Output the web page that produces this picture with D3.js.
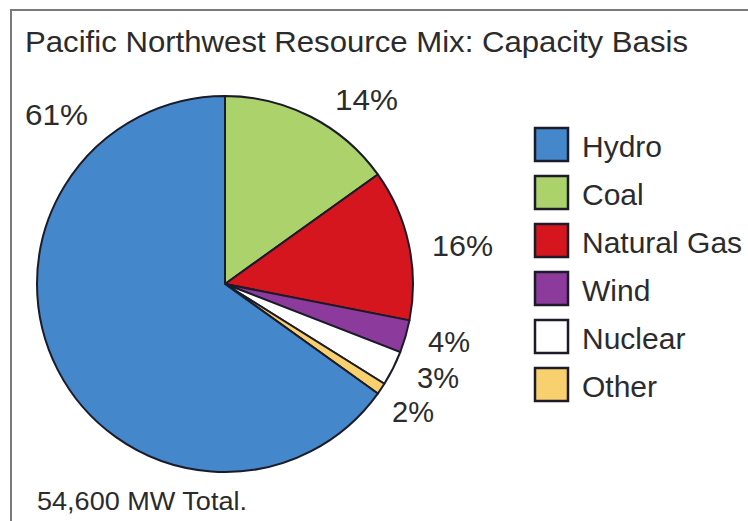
<!DOCTYPE html>
<html><head><meta charset="utf-8">
<script src="https://cdn.jsdelivr.net/npm/d3@7"></script>
<style>html,body{margin:0;padding:0;background:#fff;}svg{display:block;}</style>
</head><body>
<script>
// Data
const categories = ["Coal", "Natural Gas", "Wind", "Nuclear", "Other", "Hydro"];
// slice sizes as drawn in the picture (share of the circle, %)
const sliceShares = [15.1, 13.0, 2.8, 3.0, 1.0, 65.1];
// printed percentage labels
const pctLabels = ["14%", "16%", "4%", "3%", "2%", "61%"];
const legendOrder = ["Hydro", "Coal", "Natural Gas", "Wind", "Nuclear", "Other"];
const colors = {"Hydro":"#4587cb","Coal":"#acd26c","Natural Gas":"#d5161f","Wind":"#8c3a9c","Nuclear":"#ffffff","Other":"#f8d06e"};
const title = "Pacific Northwest Resource Mix: Capacity Basis";
const footnote = "54,600 MW Total.";

const W = 748, H = 521;
const svg = d3.select("body").append("svg").attr("width", W).attr("height", H);
const font = "Liberation Sans, Arial, sans-serif";
const txt = "#2b2b2b";

// frame
svg.append("path").attr("d", `M11,${H+5} L11,10 L${W+5},10`).attr("fill","none").attr("stroke","#7a7a7a").attr("stroke-width",2);

svg.append("text").attr("x",25).attr("y",52).attr("font-family",font).attr("font-size",30)
  .attr("fill",txt).attr("textLength",663).attr("lengthAdjust","spacingAndGlyphs").text(title);

const cx = 225, cy = 284, R = 188;
const data = categories.map((c,i)=>({cat:c, v:sliceShares[i], label:pctLabels[i]}));
const pie = d3.pie().value(d=>d.v).sort(null);
const arc = d3.arc().innerRadius(0).outerRadius(R);
const g = svg.append("g").attr("transform",`translate(${cx},${cy})`);
g.selectAll("path").data(pie(data)).join("path")
  .attr("d",arc).attr("fill",d=>colors[d.data.cat])
  .attr("stroke","#1b1b2a").attr("stroke-width",2).attr("stroke-linejoin","round");

// percent labels (placed as in the picture)
const labelPos = {
  "Coal":[335,110,63], "Natural Gas":[432,256,61], "Wind":[428,352,42],
  "Nuclear":[417,388,42], "Other":[392,422,42], "Hydro":[25,125,63]
};
svg.append("g").selectAll("text").data(data).join("text")
  .attr("x",d=>labelPos[d.cat][0]).attr("y",d=>labelPos[d.cat][1])
  .attr("textLength",d=>labelPos[d.cat][2]).attr("lengthAdjust","spacingAndGlyphs")
  .attr("font-family",font).attr("font-size",29).attr("fill",txt).text(d=>d.label);

// legend
const ly = d3.scalePoint().domain(legendOrder).range([157,397]);
const leg = svg.append("g");
leg.selectAll("rect").data(legendOrder).join("rect")
  .attr("x",535).attr("y",d=>ly(d)-29).attr("width",33).attr("height",33)
  .attr("fill",d=>colors[d]).attr("stroke","#1b1b2a").attr("stroke-width",2.5);
leg.selectAll("text").data(legendOrder).join("text")
  .attr("x",582).attr("y",d=>ly(d)).attr("font-family",font).attr("font-size",30)
  .attr("fill",txt).text(d=>d);

svg.append("text").attr("x",37).attr("y",510).attr("font-family",font).attr("font-size",25)
  .attr("fill",txt).attr("textLength",210).attr("lengthAdjust","spacingAndGlyphs").text(footnote);
</script>
</body></html>
